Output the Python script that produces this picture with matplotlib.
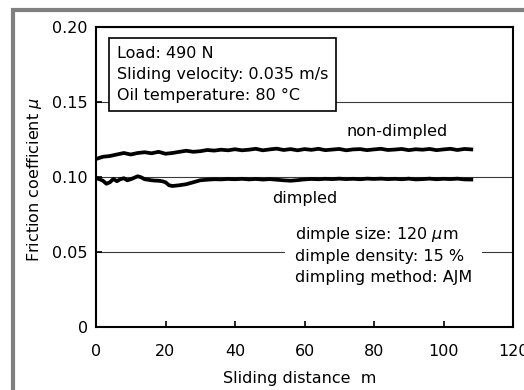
import matplotlib
matplotlib.use("Agg")
import matplotlib.pyplot as plt
from matplotlib.patches import Rectangle

plt.rcParams['font.family'] = 'DejaVu Sans'
plt.rcParams['font.size'] = 11.5
plt.rcParams['mathtext.default'] = 'it'

# friction traces, sliding distance in m
nondimpled_dist = list(range(0, 110, 2))
nondimpled_mu = [0.1120, 0.1135, 0.1140, 0.1150, 0.1160, 0.1150, 0.1160, 0.1165, 0.1158, 0.1168,
                 0.1155, 0.1160, 0.1168, 0.1175, 0.1168, 0.1172, 0.1180, 0.1176, 0.1182, 0.1178,
                 0.1185, 0.1178, 0.1182, 0.1188, 0.1178, 0.1184, 0.1189, 0.1180, 0.1186, 0.1178,
                 0.1186, 0.1181, 0.1188, 0.1179, 0.1183, 0.1187, 0.1178, 0.1184, 0.1186, 0.1179,
                 0.1184, 0.1188, 0.1180, 0.1183, 0.1187, 0.1179, 0.1185, 0.1182, 0.1187, 0.1179,
                 0.1184, 0.1188, 0.1180, 0.1187, 0.1184]

dimpled_dist = list(range(0, 22)) + list(range(22, 110, 2))
dimpled_mu = [0.0992, 0.0985, 0.0975, 0.0955, 0.0965, 0.0987, 0.0972, 0.0985, 0.0992, 0.0978,
              0.0985, 0.0995, 0.1005, 0.0998, 0.0985, 0.0982, 0.0978, 0.0976, 0.0975, 0.0972,
              0.0965, 0.0945,
              0.0940, 0.0945, 0.0952, 0.0965, 0.0978, 0.0982, 0.0985, 0.0984, 0.0987, 0.0985,
              0.0988, 0.0984, 0.0987, 0.0983, 0.0986, 0.0982, 0.0978, 0.0975, 0.0979, 0.0984,
              0.0987, 0.0985, 0.0988, 0.0986, 0.0989, 0.0986, 0.0988, 0.0985, 0.0989, 0.0987,
              0.0989, 0.0986, 0.0988, 0.0985, 0.0989, 0.0984, 0.0986, 0.0989, 0.0985, 0.0988,
              0.0986, 0.0989, 0.0984, 0.0983]

x_ticks = [0, 20, 40, 60, 80, 100, 120]
y_ticks = [0, 0.05, 0.10, 0.15, 0.20]
y_tick_labels = ["0", "0.05", "0.10", "0.15", "0.20"]

conditions = "Load: 490 N\nSliding velocity: 0.035 m/s\nOil temperature: 80 °C"
dimple_info = "dimple size: 120 $\\mu$m\ndimple density: 15 %\ndimpling method: AJM"

W, H = 524, 390
fig = plt.figure(figsize=(W / 100, H / 100), dpi=100)
ax = fig.add_axes([96 / W, 1 - 327 / H, 417 / W, 300 / H])

ax.plot(nondimpled_dist, nondimpled_mu, color="black", lw=2.7, solid_joinstyle="round")
ax.plot(dimpled_dist, dimpled_mu, color="black", lw=2.7, solid_joinstyle="round")

ax.set_xlim(0, 120)
ax.set_ylim(0, 0.20)
ax.set_xticks(x_ticks)
ax.set_yticks(y_ticks)
ax.set_yticklabels(y_tick_labels)
ax.tick_params(direction="in", length=4, width=1.2, colors="black", labelsize=11.5)
ax.tick_params(axis="x", pad=12)
ax.tick_params(axis="y", pad=6)
ax.grid(axis="y", color="#3a3a3a", lw=0.8)
for s in ax.spines.values():
    s.set_linewidth(1.5)

ax.text(0.0504, 0.937, conditions, transform=ax.transAxes, ha="left", va="top",
        linespacing=1.5,
        bbox=dict(boxstyle="square,pad=0.5", fc="white", ec="black", lw=1.2))
ax.text(0.477, 0.34, dimple_info, transform=ax.transAxes, ha="left", va="top",
        linespacing=1.45,
        bbox=dict(boxstyle="square,pad=0.6", fc="white", ec="none"))
ax.text(0.722, 0.653, "non-dimpled", transform=ax.transAxes, ha="center", va="center")
ax.text(0.501, 0.427, "dimpled", transform=ax.transAxes, ha="center", va="center")

fig.text(35 / W, 1 - 180 / H, "Friction coefficient $\\mu$", rotation=90,
         ha="center", va="center")
fig.text(300 / W, 1 - 378 / H, "Sliding distance  m", ha="center", va="center")

# grey frame around the panel
fig.add_artist(Rectangle((13 / W, -0.2), 1.2, 1.2 - 10 / H, transform=fig.transFigure,
                         fill=False, ec="#808080", lw=3))

fig.savefig("out.png", dpi=100)
